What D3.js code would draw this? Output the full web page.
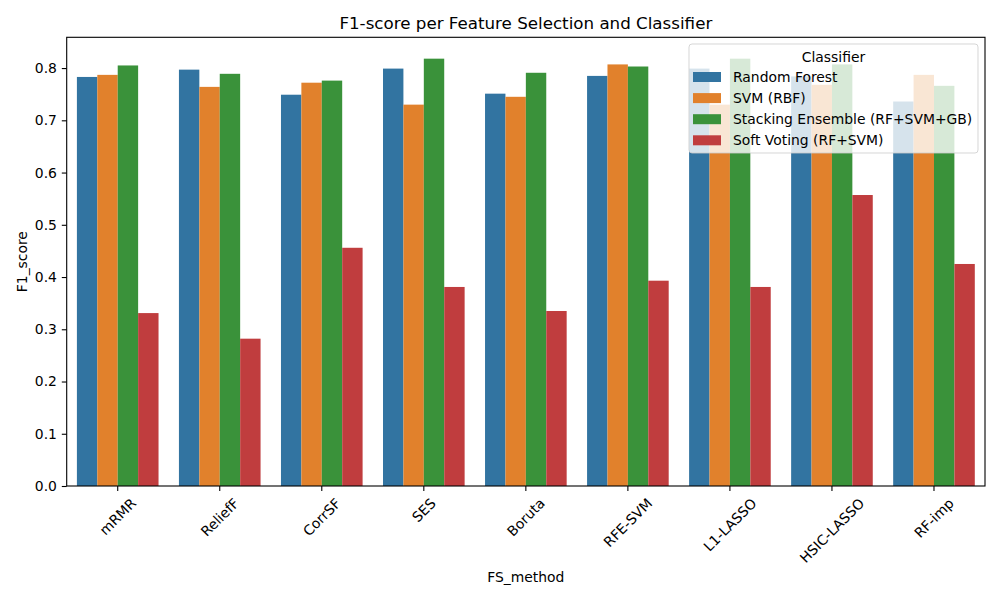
<!DOCTYPE html>
<html>
<head>
  <meta charset="utf-8">
  <title>F1-score per Feature Selection and Classifier</title>
  <script src="https://cdn.jsdelivr.net/npm/d3@7"></script>
  <style>
    body { margin: 0; background: #fff; }
    text { font-family: "DejaVu Sans", sans-serif; fill: #000; }
  </style>
</head>
<body>
<script>
// data
var methods = ["mRMR", "ReliefF", "CorrSF", "SES", "Boruta", "RFE-SVM", "L1-LASSO", "HSIC-LASSO", "RF-imp"];
var classifiers = ["Random Forest", "SVM (RBF)", "Stacking Ensemble (RF+SVM+GB)", "Soft Voting (RF+SVM)"];
var rfScores    = [0.783, 0.797, 0.749, 0.799, 0.751, 0.785, 0.799, 0.784, 0.736];
var svmScores   = [0.787, 0.764, 0.772, 0.730, 0.745, 0.807, 0.730, 0.768, 0.787];
var stackScores = [0.805, 0.789, 0.776, 0.818, 0.791, 0.803, 0.818, 0.807, 0.766];
var softScores  = [0.331, 0.282, 0.456, 0.381, 0.335, 0.393, 0.381, 0.557, 0.425];
var yTicks = [0.0, 0.1, 0.2, 0.3, 0.4, 0.5, 0.6, 0.7, 0.8];

var colors = ["#3274a1", "#e1812c", "#3a923a", "#c03d3e"];
var series = [rfScores, svmScores, stackScores, softScores];

var W = 1000, H = 600;
var plotLeft = 66.7, plotRight = 985, plotTop = 37.3, plotBottom = 486;

var svg = d3.select("body").append("svg")
  .attr("width", W).attr("height", H);

var x = d3.scaleBand().domain(methods).range([plotLeft, plotRight])
  .paddingInner(0.2).paddingOuter(0.1);
var xh = d3.scaleBand().domain(classifiers).range([0, x.bandwidth()]);
var ymax = d3.max(series, function(s) { return d3.max(s); }) * 1.05;
var y = d3.scaleLinear().domain([0, ymax]).range([plotBottom, plotTop]);

// bars
var rows = [];
series.forEach(function(s, ci) {
  s.forEach(function(v, mi) {
    rows.push({ method: methods[mi], cls: classifiers[ci], ci: ci, value: v });
  });
});
svg.append("g").selectAll("rect").data(rows).enter().append("rect")
  .attr("x", function(d) { return x(d.method) + xh(d.cls); })
  .attr("width", xh.bandwidth())
  .attr("y", function(d) { return y(d.value); })
  .attr("height", function(d) { return plotBottom - y(d.value); })
  .attr("fill", function(d) { return colors[d.ci]; });

// y axis
var yAxis = svg.append("g").attr("transform", "translate(" + plotLeft + ",0)")
  .call(d3.axisLeft(y).tickValues(yTicks).tickFormat(d3.format(".1f")).tickSize(4.9).tickPadding(4.9));
yAxis.select(".domain").remove();
yAxis.selectAll("text").style("font-size", "13.9px").attr("font-family", "DejaVu Sans");
yAxis.selectAll("line").attr("stroke", "#000").attr("stroke-width", 1.1);

// x axis ticks and rotated labels
var xAxis = svg.append("g").attr("transform", "translate(0," + plotBottom + ")")
  .call(d3.axisBottom(x).tickSize(4.9).tickFormat(""));
xAxis.select(".domain").remove();
xAxis.selectAll("line").attr("stroke", "#000").attr("stroke-width", 1.1);

var fs = 13.9;
methods.forEach(function(m) {
  var t = svg.append("text")
    .style("font-size", fs + "px")
    .attr("text-anchor", "middle")
    .attr("dominant-baseline", "central")
    .text(m);
  var w = t.node().getComputedTextLength();
  var half = (w + fs) * Math.SQRT1_2 / 2;
  var cx = x(m) + x.bandwidth() / 2;
  var cy = plotBottom + 4.9 + 4.9 + half;
  t.attr("transform", "translate(" + cx + "," + cy + ") rotate(-45)");
});

// spines
svg.append("rect")
  .attr("x", plotLeft).attr("y", plotTop)
  .attr("width", plotRight - plotLeft).attr("height", plotBottom - plotTop)
  .attr("fill", "none").attr("stroke", "#000").attr("stroke-width", 1.1);

// labels
svg.append("text")
  .attr("x", (plotLeft + plotRight) / 2).attr("y", 29)
  .attr("text-anchor", "middle")
  .style("font-size", "16.7px")
  .text("F1-score per Feature Selection and Classifier");

svg.append("text")
  .attr("x", (plotLeft + plotRight) / 2).attr("y", 577)
  .attr("text-anchor", "middle")
  .attr("dominant-baseline", "central")
  .style("font-size", "13.9px")
  .text("FS_method");

svg.append("text")
  .attr("transform", "translate(22," + (plotTop + plotBottom) / 2 + ") rotate(-90)")
  .attr("text-anchor", "middle")
  .attr("dominant-baseline", "central")
  .style("font-size", "13.9px")
  .text("F1_score");

// legend
var lg = svg.append("g");
lg.append("rect")
  .attr("x", 689).attr("y", 44).attr("width", 289).attr("height", 109)
  .attr("rx", 3)
  .attr("fill", "#fff").attr("fill-opacity", 0.8)
  .attr("stroke", "#ccc").attr("stroke-opacity", 0.8);
lg.append("text")
  .attr("x", 833.5).attr("y", 56.5)
  .attr("text-anchor", "middle")
  .attr("dominant-baseline", "central")
  .style("font-size", "13.9px")
  .text("Classifier");
classifiers.forEach(function(c, i) {
  var cy = 77 + i * 21.1;
  lg.append("rect")
    .attr("x", 693).attr("y", cy - 5).attr("width", 28).attr("height", 10)
    .attr("fill", colors[i]);
  lg.append("text")
    .attr("x", 733).attr("y", cy)
    .attr("dominant-baseline", "central")
    .style("font-size", "13.9px")
    .text(c);
});
</script>
</body>
</html>
